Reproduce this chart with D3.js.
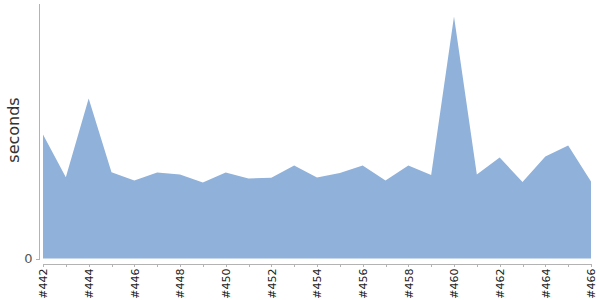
<!DOCTYPE html>
<html>
<head>
<meta charset="utf-8">
<script src="https://cdn.jsdelivr.net/npm/d3@7"></script>
<style>
  body { margin: 0; background: #fff; }
  svg { font-family: "DejaVu Sans", sans-serif; }
  .axis path, .axis line { stroke: #b3b3b3; fill: none; shape-rendering: crispEdges; }
  .axis text { fill: #222; }
</style>
</head>
<body>
<svg width="600" height="300"></svg>
<script>
"use strict";

// build numbers
const builds = [442, 443, 444, 445, 446, 447, 448, 449, 450, 451, 452, 453,
  454, 455, 456, 457, 458, 459, 460, 461, 462, 463, 464, 465, 466];
// duration per build (seconds)
const seconds = [488, 320, 630, 340, 307, 339, 331, 299, 339, 315, 318, 366,
  319, 337, 366, 307, 366, 329, 953, 331, 398, 301, 402, 445, 303];
// only labels every second build
const labelledBuilds = [442, 444, 446, 448, 450, 452, 454, 456, 458, 460, 462, 464, 466];

const data = builds.map((b, i) => ({ build: b, secs: seconds[i] }));

const svg = d3.select("svg");

const x = d3.scaleLinear().domain([442, 466]).range([43, 591]);
const y = d3.scaleLinear().domain([0, 1000]).range([258.5, 4.5]);

// area
const area = d3.area()
  .x((d) => x(d.build))
  .y0(y(0))
  .y1((d) => y(d.secs));

svg.append("path")
  .datum(data)
  .attr("d", area)
  .style("fill", "#8fb1da");

// y axis, just the 0 tick
const yAxis = d3.axisLeft(y).tickValues([0]).tickSize(4).tickPadding(3).tickSizeOuter(0);
const yG = svg.append("g")
  .attr("class", "axis")
  .attr("transform", "translate(39.5,0)")
  .call(yAxis)
  .attr("font-family", "DejaVu Sans");
yG.select(".domain").attr("d", "M0,4V259.5");
yG.selectAll("text").style("font-size", "13px").style("fill", "#555");

// x axis, tick at every build
const xAxis = d3.axisBottom(x)
  .tickValues(builds)
  .tickSize(3)
  .tickSizeOuter(0)
  .tickFormat((d) => (labelledBuilds.includes(d) ? "#" + d : ""));
const xG = svg.append("g")
  .attr("class", "axis")
  .attr("transform", "translate(0,263.5)")
  .call(xAxis)
  .attr("font-family", "DejaVu Sans");
xG.selectAll("text")
  .style("font-size", "11px")
  .attr("text-anchor", "end")
  .attr("transform", "rotate(-90)")
  .attr("x", -5)
  .attr("y", 0)
  .attr("dy", "0.35em");

// axis title
svg.append("text")
  .attr("transform", "translate(19,130) rotate(-90)")
  .attr("text-anchor", "middle")
  .attr("font-family", "DejaVu Sans")
  .style("font-size", "16px")
  .style("fill", "#333")
  .text("seconds");
</script>
</body>
</html>
